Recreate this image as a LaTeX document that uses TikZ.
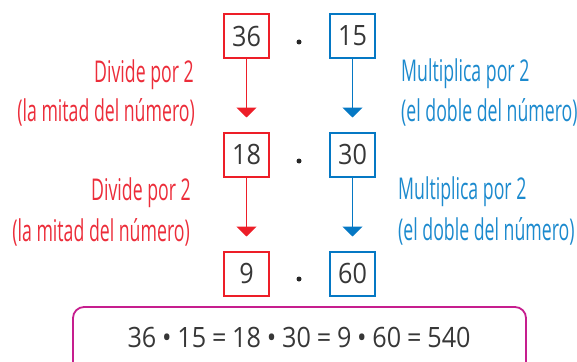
\documentclass[tikz,border=0pt]{standalone}
\usepackage{fontspec}
\setmainfont{Open Sans}
\newfontfamily\labfont[FakeStretch=0.59]{Open Sans}
\newfontfamily\numfont[FakeStretch=0.9]{Open Sans}
\usetikzlibrary{arrows.meta}
\definecolor{redbox}{RGB}{237,30,40}
\definecolor{bluebox}{RGB}{5,120,196}
\definecolor{redtext}{RGB}{236,45,58}
\definecolor{bluetext}{RGB}{28,138,206}
\definecolor{numgray}{RGB}{55,55,55}
\definecolor{magbox}{RGB}{198,30,142}
\newcommand{\gp}{\hspace{5.8pt}}
\tikzset{
  numbox/.style={draw, line width=2pt, minimum width=45pt, minimum height=44pt, inner sep=0pt,
     font=\numfont\fontsize{28}{28}\selectfont, text=numgray},
  rbox/.style={numbox, draw=redbox},
  bbox/.style={numbox, draw=bluebox},
  conn/.style={line width=1.8pt, -{Triangle[width=20pt,length=10pt]}, shorten >=14pt},
  rconn/.style={conn, draw=redbox, fill=redbox},
  bconn/.style={conn, draw=bluebox, fill=bluebox},
  lab/.style={font=\labfont\fontsize{30}{30}\selectfont, inner sep=0pt},
  rlab/.style={lab, text=redtext, anchor=base east},
  blab/.style={lab, text=bluetext, anchor=base west},
  mdot/.style={circle, fill=black!85, inner sep=0pt, minimum size=5pt},
}
\begin{document}
\begin{tikzpicture}[x=1pt,y=-1pt]
\useasboundingbox (0,0) rectangle (577,361);
\clip (0,0) rectangle (577,361);
% boxes
\node[rbox] (r1) at (246.5,36) {36};
\node[bbox] (b1) at (352.5,36) {15};
\node[mdot] (d1) at (299,42) {};
\node[rbox] (r2) at (246.5,154.5) {18};
\node[bbox] (b2) at (352.5,154.5) {30};
\node[mdot] (d2) at (299,161) {};
\node[rbox] (r3) at (246.5,273.5) {9};
\node[bbox] (b3) at (352.5,273.5) {60};
\node[mdot] (d3) at (299,279) {};
% arrows
\draw[rconn] (r1.south) -- (r2.north);
\draw[bconn] (b1.south) -- (b2.north);
\draw[rconn] (r2.south) -- (r3.north);
\draw[bconn] (b2.south) -- (b3.north);
% labels
\node[rlab] (l1) at (194,82) {Divide por 2};
\node[rlab] (l2) at (195,121) {(la mitad del número)};
\node[blab] (l3) at (401,81) {Multiplica por 2};
\node[blab] (l4) at (401,121) {(el doble del número)};
\node[rlab] (l5) at (191,200) {Divide por 2};
\node[rlab] (l6) at (190,241) {(la mitad del número)};
\node[blab] (l7) at (398,199) {Multiplica por 2};
\node[blab] (l8) at (398,240) {(el doble del número)};
% equation
\node[font=\numfont\fontsize{28}{28}\selectfont, text=numgray, anchor=base, inner sep=0pt] (eq) at (299,347)
  {36\gp•\gp15\gp=\gp18\gp•\gp30\gp=\gp9\gp•\gp60\gp=\gp540};
\draw[magbox, line width=1.8pt, rounded corners=11pt] (73,307) rectangle (526,375);
\end{tikzpicture}
\end{document}
